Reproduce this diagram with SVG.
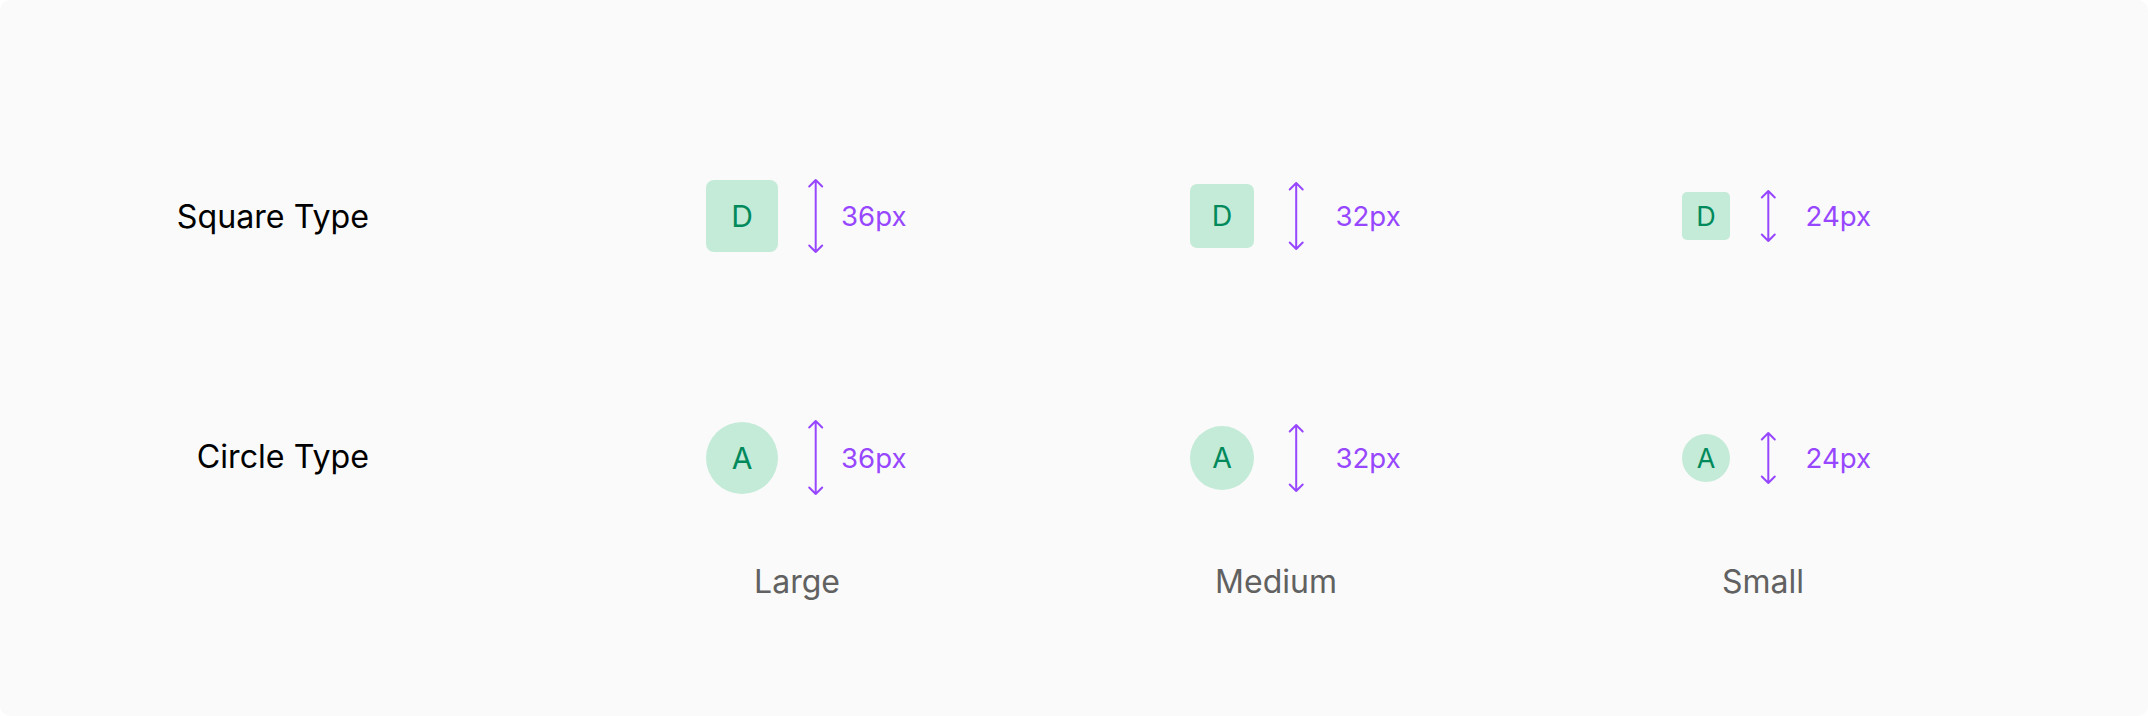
<svg xmlns="http://www.w3.org/2000/svg" width="2148" height="716" viewBox="0 0 2148 716">
<style>
.bg{fill:#FAFAFA}
.badge{fill:#C4EBD8}
.letter{font-family:Inter,"Liberation Sans",sans-serif;font-weight:400;fill:#008A5B;text-anchor:middle}
.lg{font-size:30px}
.md{font-size:28.5px}
.sm{font-size:27px}
.dim{font-family:Inter,"Liberation Sans",sans-serif;font-size:27.6px;fill:#9747FF}
.row{font-family:Inter,"Liberation Sans",sans-serif;font-size:32.2px;fill:#000000;text-anchor:end}
.col{font-family:Inter,"Liberation Sans",sans-serif;font-size:32px;fill:#616161;text-anchor:middle}
.arr{stroke:#9747FF;stroke-width:2;fill:none;stroke-linecap:round;stroke-linejoin:round}
</style>
<rect width="2148" height="716" fill="#FFFFFF"/>
<rect class="bg" width="2148" height="716" rx="10"/>
<g id="row-labels">
<text class="row" x="369" y="228">Square Type</text>
<text class="row" x="369" y="468">Circle Type</text>
</g>
<g id="col-labels">
<text class="col" x="797" y="593">Large</text>
<text class="col" x="1276" y="593">Medium</text>
<text class="col" x="1763" y="593">Small</text>
</g>
<g id="square-large">
<rect class="badge" x="706" y="180" width="72" height="72" rx="8"/>
<text class="letter lg" x="742" y="227">D</text>
<text class="dim" x="841" y="226">36px</text>
</g>
<g id="square-medium">
<rect class="badge" x="1190" y="184" width="64" height="64" rx="7"/>
<text class="letter md" x="1222" y="226">D</text>
<text class="dim" x="1335.5" y="226">32px</text>
</g>
<g id="square-small">
<rect class="badge" x="1682" y="192" width="48" height="48" rx="5"/>
<text class="letter sm" x="1706" y="226">D</text>
<text class="dim" x="1805.5" y="226">24px</text>
</g>
<g id="circle-large">
<circle class="badge" cx="742" cy="458" r="36"/>
<text class="letter lg" x="742" y="469">A</text>
<text class="dim" x="841" y="468">36px</text>
</g>
<g id="circle-medium">
<circle class="badge" cx="1222" cy="458" r="32"/>
<text class="letter md" x="1222" y="468">A</text>
<text class="dim" x="1335.5" y="468">32px</text>
</g>
<g id="circle-small">
<circle class="badge" cx="1706" cy="458" r="24"/>
<text class="letter sm" x="1706" y="468">A</text>
<text class="dim" x="1805.5" y="468">24px</text>
</g>
<g id="connectors">
<path class="arr" d="M815.7 180V252M809.2 186.5L815.7 180L822.2 186.5M809.2 245.5L815.7 252L822.2 245.5"/>
<path class="arr" d="M1296.2 183V249M1289.7 189.5L1296.2 183L1302.7 189.5M1289.7 242.5L1296.2 249L1302.7 242.5"/>
<path class="arr" d="M1768.3 191V241M1761.8 197.5L1768.3 191L1774.8 197.5M1761.8 234.5L1768.3 241L1774.8 234.5"/>
<path class="arr" d="M815.7 421V494M809.2 427.5L815.7 421L822.2 427.5M809.2 487.5L815.7 494L822.2 487.5"/>
<path class="arr" d="M1296.2 425V491M1289.7 431.5L1296.2 425L1302.7 431.5M1289.7 484.5L1296.2 491L1302.7 484.5"/>
<path class="arr" d="M1768.3 433V483M1761.8 439.5L1768.3 433L1774.8 439.5M1761.8 476.5L1768.3 483L1774.8 476.5"/>
</g>
</svg>
